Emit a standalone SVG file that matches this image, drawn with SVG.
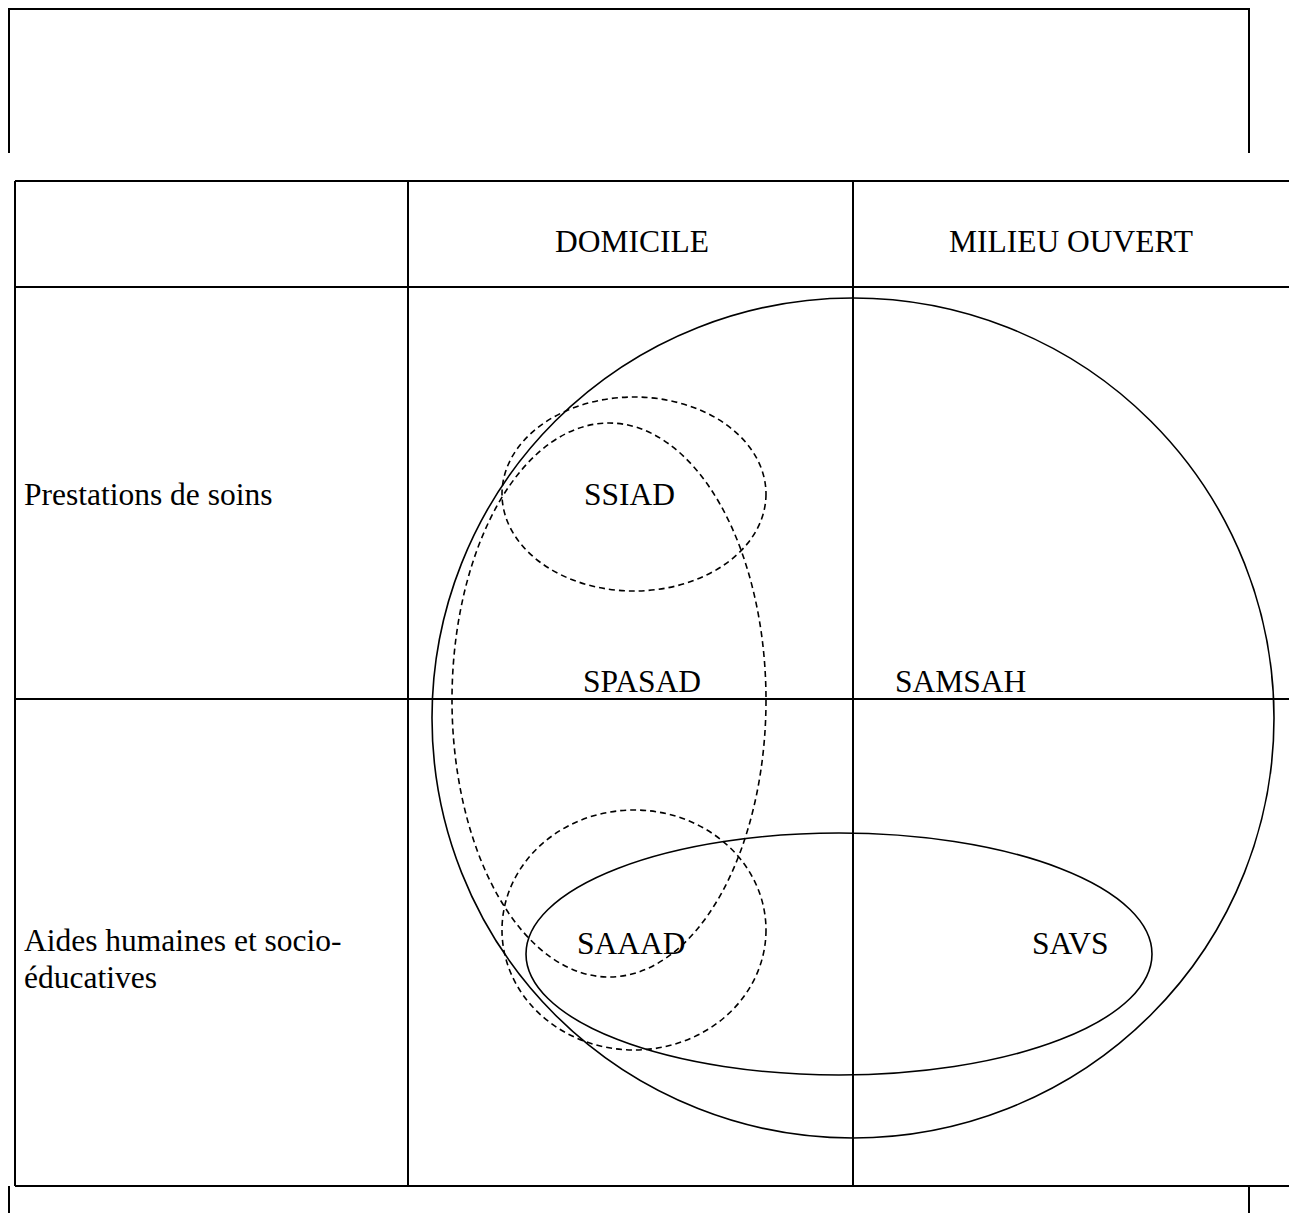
<svg xmlns="http://www.w3.org/2000/svg" width="1289" height="1213" viewBox="0 0 1289 1213">
<style>
.ln{stroke:#000;stroke-width:2;fill:none}
.el{stroke:#000;stroke-width:1.6;fill:none}
.ds{stroke:#000;stroke-width:1.6;fill:none;stroke-dasharray:6 4}
text{font-family:"Liberation Serif","Times New Roman",serif;font-size:31.5px;fill:#000}
</style>
<rect width="1289" height="1213" fill="#fff"/>
<g id="frame">
<path class="ln" d="M9,153 V9 H1249 V153"/>
<path class="ln" d="M9,1186 V1213 M1249,1186 V1213"/>
</g>
<g id="table">
<path class="ln" d="M15,181 H1289 M15,287 H1289 M15,699 H1289 M15,1186 H1289"/>
<path class="ln" d="M15,181 V1186 M408,181 V1186 M853,181 V1186"/>
<text x="555" y="252">DOMICILE</text>
<text x="949" y="252">MILIEU OUVERT</text>
<text x="24" y="505">Prestations de soins</text>
<text x="24" y="951">Aides humaines et socio-</text>
<text x="24" y="988">éducatives</text>
</g>
<g id="connectors"></g>
<g id="samsah">
<ellipse class="el" cx="853" cy="718" rx="421" ry="420"/>
<text x="895" y="692">SAMSAH</text>
</g>
<g id="spasad">
<ellipse class="ds" cx="609" cy="700" rx="157" ry="277"/>
<text x="583" y="692">SPASAD</text>
</g>
<g id="ssiad">
<ellipse class="ds" cx="634" cy="494" rx="132" ry="97"/>
<text x="584" y="505">SSIAD</text>
</g>
<g id="saaad">
<ellipse class="ds" cx="634" cy="930" rx="132" ry="120"/>
<text x="577" y="954">SAAAD</text>
</g>
<g id="savs">
<ellipse class="el" cx="839" cy="954" rx="313" ry="121"/>
<text x="1032" y="954">SAVS</text>
</g>
</svg>
